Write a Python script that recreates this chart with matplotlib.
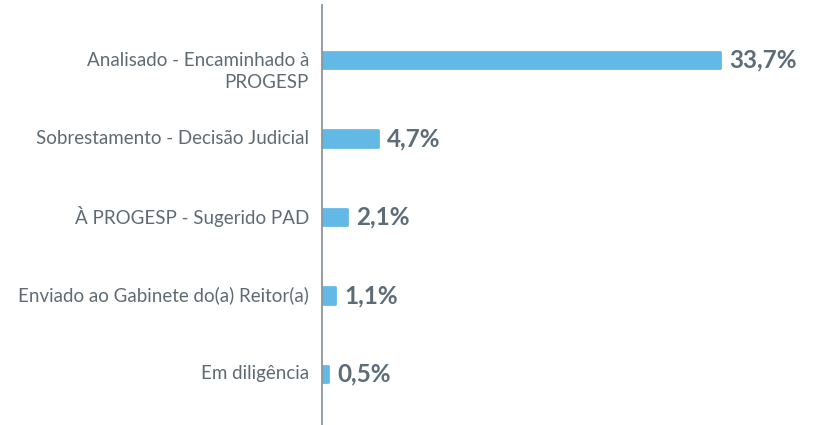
import matplotlib
matplotlib.use("Agg")
import matplotlib.pyplot as plt

categories = ["Analisado - Encaminhado à\nPROGESP",
              "Sobrestamento - Decisão Judicial",
              "À PROGESP - Sugerido PAD",
              "Enviado ao Gabinete do(a) Reitor(a)",
              "Em diligência"]
values = [33.7, 4.7, 2.1, 1.1, 0.5]
value_labels = ["33,7%", "4,7%", "2,1%", "1,1%", "0,5%"]

bar_color = "#63B9E6"
label_color = "#5f6b73"
value_color = "#5d6d78"

fig = plt.figure(figsize=(8.16, 4.25), dpi=100)
ax = fig.add_axes([322/816, 0, 1 - 322/816, 1 - 5/425])

y = list(range(len(categories)))
ax.barh(y, values, height=0.21, color=bar_color, edgecolor=bar_color,
        linewidth=2, joinstyle="round")
ax.set_xlim(0, 41.8)
ax.set_ylim(4.65, -0.7)

for yi, v, lab in zip(y, values, value_labels):
    ax.annotate(lab, xy=(v, yi), xytext=(9, 0), textcoords="offset pixels",
                va="center", ha="left", fontsize=17.5, fontweight="bold",
                color=value_color, family="Lato")

for yi, cat in zip(y, categories):
    nlines = cat.count("\n")
    ax.annotate(cat, xy=(0, yi), xycoords=("axes fraction", "data"),
                xytext=(-13, -11.5 * nlines), textcoords="offset pixels",
                va="center", ha="right", fontsize=13.5, color=label_color,
                family="Lato", linespacing=1.35)

ax.set_yticks([])
ax.set_xticks([])
for s in ["top", "right", "bottom"]:
    ax.spines[s].set_visible(False)
ax.spines["left"].set_color("#8a959c")
ax.spines["left"].set_linewidth(1.3)

fig.savefig("out.png", dpi=100)
